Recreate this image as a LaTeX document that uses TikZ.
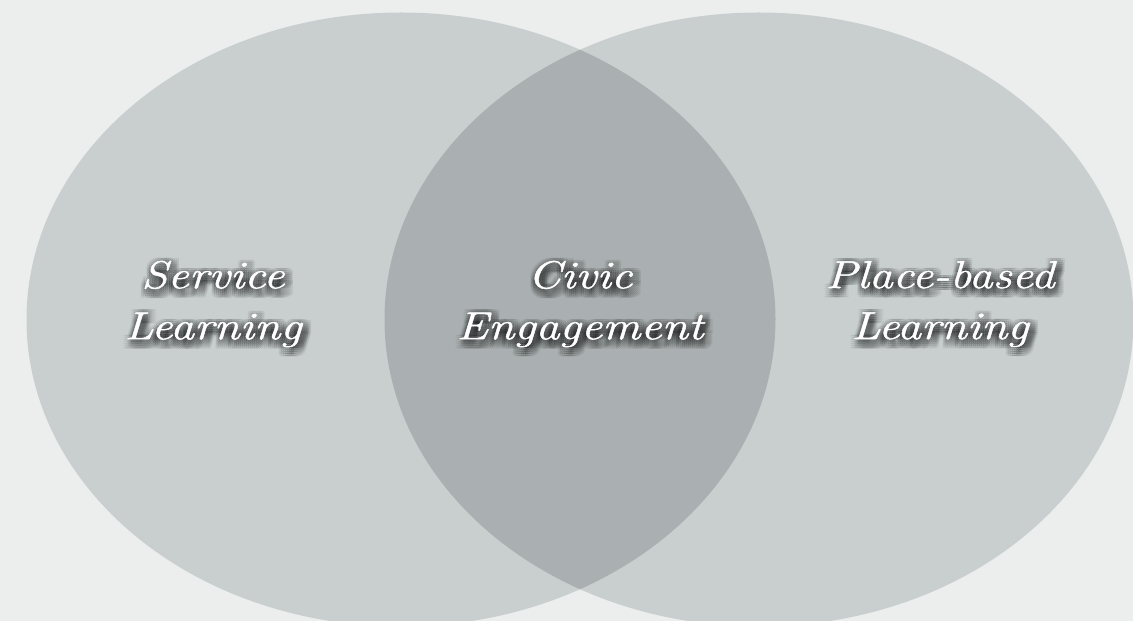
\documentclass[tikz,border=0pt]{standalone}
\usepackage{fontspec}
\newfontfamily\lblfont{Latin Modern Roman}[FakeStretch=1.22,FakeBold=1.2]
\begin{document}
\begin{tikzpicture}[x=1pt,y=1pt,
  lbl/.style={inner sep=0pt,align=center,text=white,
    font=\lblfont\fontsize{39}{51}\selectfont\itshape},
  shd/.style={lbl,text=black,text opacity=0.035}]
\definecolor{bgc}{HTML}{ECEEED}
\definecolor{ellc}{HTML}{C9CFCF}
\definecolor{ovc}{HTML}{AAB0B1}
\useasboundingbox (0,0) rectangle (1133,621);
\fill[bgc] (0,0) rectangle (1133,621);
\fill[ellc] (401,301.5) ellipse [x radius=374.5,y radius=307];
\fill[ellc] (759,301.5) ellipse [x radius=374.5,y radius=307];
\begin{scope}
  \clip (401,301.5) ellipse [x radius=374.5,y radius=307];
  \fill[ovc] (759,301.5) ellipse [x radius=374.5,y radius=307];
\end{scope}
\foreach \nm/\px/\txt in {sl/213/{Service\\Learning},ce/580/{Civic\\Engagement},pl/940/{Place-based\\Learning}}{
  \foreach \dx in {-6,-4,-2,0,2,4,6}{
    \foreach \dy in {-6,-4,-2,0,2,4,6}{
      \node[shd] (\nm-\dx-\dy) at (\px+2+\dx,317-3+\dy) {\txt};
    }
  }
  \node[lbl] (\nm) at (\px,317) {\txt};
}
\end{tikzpicture}
\end{document}
